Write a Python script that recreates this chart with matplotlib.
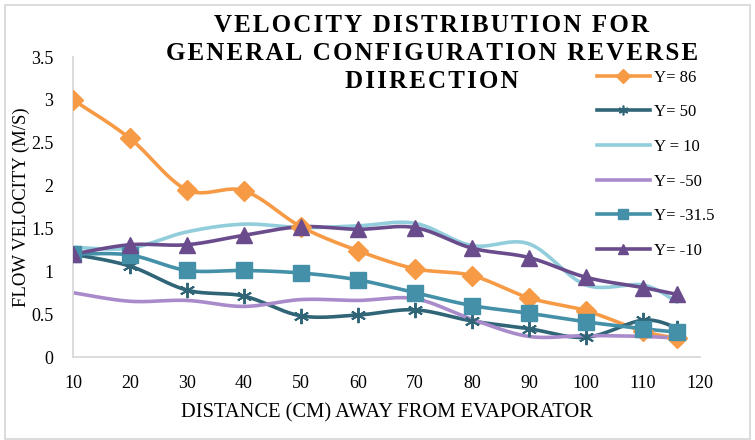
import matplotlib
matplotlib.use("Agg")
import matplotlib.pyplot as plt
import numpy as np
from matplotlib.lines import Line2D
from matplotlib.patches import Rectangle

# Data
distance = [10, 20, 30, 40, 50, 60, 70, 80, 90, 100, 110, 116]
y_86 = [3.0, 2.55, 1.95, 1.94, 1.52, 1.24, 1.03, 0.95, 0.69, 0.54, 0.30, 0.22]
y_50 = [1.2, 1.06, 0.78, 0.71, 0.48, 0.49, 0.55, 0.42, 0.33, 0.23, 0.43, 0.34]
y_10 = [1.28, 1.27, 1.46, 1.55, 1.51, 1.53, 1.56, 1.30, 1.32, 0.84, 0.84, 0.64]
y_m50 = [0.75, 0.65, 0.66, 0.59, 0.67, 0.66, 0.68, 0.44, 0.24, 0.25, 0.24, 0.22]
y_m315 = [1.2, 1.19, 1.01, 1.01, 0.98, 0.9, 0.75, 0.6, 0.51, 0.41, 0.33, 0.29]
y_m10 = [1.2, 1.31, 1.31, 1.42, 1.52, 1.49, 1.51, 1.27, 1.16, 0.93, 0.81, 0.73]

labels = ["Y= 86", "Y= 50", "Y = 10", "Y= -50", "Y= -31.5", "Y= -10"]
series = [y_86, y_50, y_10, y_m50, y_m315, y_m10]
colors = ["#F79A46", "#2F6577", "#92CDDC", "#A98BCB", "#4390A8", "#6A4C8C"]
markers = ["D", "x", None, None, "s", "^"]

xticks = [10, 20, 30, 40, 50, 60, 70, 80, 90, 100, 110, 120]
yticks = [0, 0.5, 1, 1.5, 2, 2.5, 3, 3.5]
ytick_labels = ["0", "0.5", "1", "1.5", "2", "2.5", "3", "3.5"]

title_lines = ["VELOCITY DISTRIBUTION FOR",
               "GENERAL CONFIGURATION REVERSE",
               "DIIRECTION"]

SERIF = ["Liberation Serif", "DejaVu Serif"]


def smooth(x, y, n=24):
    """Excel-like smoothed line (uniform Catmull-Rom through the points)."""
    p = np.column_stack([x, y]).astype(float)
    p = np.vstack([p[0], p, p[-1]])
    t = np.linspace(0, 1, n)[:, None]
    out = []
    for i in range(1, len(p) - 2):
        p0, p1, p2, p3 = p[i - 1], p[i], p[i + 1], p[i + 2]
        seg = 0.5 * ((2 * p1) + (-p0 + p2) * t
                     + (2 * p0 - 5 * p1 + 4 * p2 - p3) * t ** 2
                     + (-p0 + 3 * p1 - 3 * p2 + p3) * t ** 3)
        out.append(seg if i == 1 else seg[1:])
    out = np.vstack(out)
    return out[:, 0], out[:, 1]


def spaced(s):
    # the title is letter-spaced in the original
    return "\u200a".join(s)


W, H = 755, 440
fig = plt.figure(figsize=(W / 100, H / 100), dpi=100)
ax = fig.add_axes([73 / W, 1 - 357 / H, (700 - 73) / W, (357 - 57) / H])

handles = []
for vals, col, mk, lab in zip(series, colors, markers, labels):
    sx, sy = smooth(distance, vals)
    ax.plot(sx, sy, color=col, lw=2.6, solid_capstyle="round", zorder=2)
    if mk == "x":
        ax.plot(distance, vals, ls="none", marker=(6, 2, 0), ms=11, mew=1.4,
                color=col, zorder=3)
    elif mk is not None:
        ms = {"D": 10, "s": 11, "^": 12}[mk]
        ax.plot(distance, vals, ls="none", marker=mk, ms=ms, color=col,
                mec=col, zorder=3)
    if mk == "x":
        h = Line2D([], [], color=col, lw=2.6, marker=(6, 2, 0), ms=7, mew=1.2)
    elif mk is not None:
        h = Line2D([], [], color=col, lw=2.6, marker=mk, ms=7)
    else:
        h = Line2D([], [], color=col, lw=2.6)
    handles.append(h)

ax.set_xlim(10, 120)
ax.set_ylim(0, 3.5)
ax.set_xticks(xticks)
ax.set_xticklabels([str(v) for v in xticks], family=SERIF, fontsize=13)
ax.set_yticks(yticks)
ax.set_yticklabels(ytick_labels, family=SERIF, fontsize=13)
ax.tick_params(length=0, pad=14)
ax.tick_params(axis="x", pad=13)
for side in ["top", "right"]:
    ax.spines[side].set_visible(False)
for side in ["left", "bottom"]:
    ax.spines[side].set_color("#D9D9D9")
    ax.spines[side].set_linewidth(1.3)

ax.set_xlabel("DISTANCE (CM) AWAY FROM EVAPORATOR", family=SERIF,
              fontsize=14.8, labelpad=8)
ax.set_ylabel("FLOW VELOCITY (M/S)", family=SERIF, fontsize=13.5, labelpad=1)

for i, line in enumerate(title_lines):
    fig.text(432 / W, 1 - (32 + 28 * i) / H, spaced(line), ha="center",
             va="baseline", family=SERIF, fontweight="bold", fontsize=18)

fig.legend(handles, labels, loc="upper left",
           bbox_to_anchor=(597 / W, 1 - 69.5 / H), frameon=False,
           prop={"family": SERIF, "size": 12}, handlelength=3.15,
           handletextpad=0.3, labelspacing=1.12, borderpad=0,
           borderaxespad=0)

fig.patches.append(Rectangle((5 / W, 0.003), 1 - 10 / W, 1 - 5 / H - 0.003,
                             transform=fig.transFigure, fill=False,
                             edgecolor="#D9D9D9", lw=1.3))

fig.savefig("out.png", dpi=100)
